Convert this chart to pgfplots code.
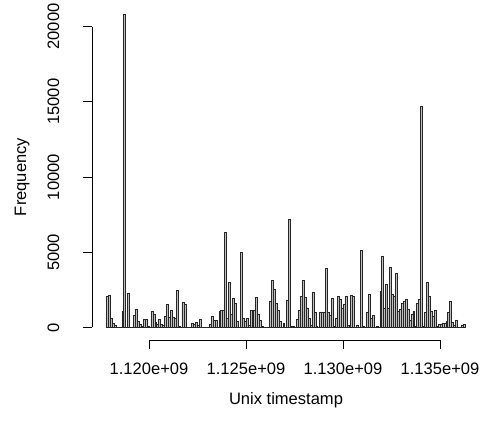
\documentclass[border=0pt]{standalone}
\usepackage{fontspec}
\setmainfont{Liberation Sans}
\usepackage{pgfplots}
\usepackage{pgfplotstable}
\pgfplotsset{compat=1.18}
% counts per bin of width 1e5 s, first bin starts at 1.1178e9 s
\pgfplotstableread[row sep=\\]{
f\\
2050\\ 2170\\ 640\\ 290\\ 130\\ 30\\ 0\\ 0\\ 1060\\ 20800\\
0\\ 2300\\ 0\\ 0\\ 820\\ 1200\\ 400\\ 220\\ 90\\ 520\\
520\\ 80\\ 0\\ 1080\\ 880\\ 330\\ 180\\ 520\\ 200\\ 150\\
750\\ 1550\\ 650\\ 1150\\ 700\\ 600\\ 2470\\ 60\\ 0\\ 1660\\
1570\\ 0\\ 0\\ 20\\ 290\\ 240\\ 350\\ 150\\ 520\\ 0\\
0\\ 0\\ 0\\ 230\\ 720\\ 480\\ 480\\ 20\\ 1080\\ 1130\\
1170\\ 6300\\ 600\\ 3000\\ 880\\ 1930\\ 1620\\ 380\\ 40\\ 4980\\
600\\ 420\\ 620\\ 160\\ 1150\\ 660\\ 1150\\ 2000\\ 850\\ 460\\
60\\ 30\\ 0\\ 20\\ 1710\\ 3130\\ 2560\\ 1600\\ 1170\\ 380\\
0\\ 280\\ 0\\ 1820\\ 7200\\ 60\\ 60\\ 20\\ 550\\ 1130\\
2080\\ 3130\\ 2030\\ 1300\\ 600\\ 130\\ 2370\\ 1020\\ 60\\ 0\\
1040\\ 1040\\ 1040\\ 3910\\ 1020\\ 780\\ 1940\\ 80\\ 580\\ 2080\\
1850\\ 1300\\ 1520\\ 2080\\ 150\\ 170\\ 2150\\ 2080\\ 0\\ 120\\
0\\ 5120\\ 60\\ 0\\ 1030\\ 2200\\ 600\\ 800\\ 0\\ 60\\
0\\ 2430\\ 4760\\ 1300\\ 2880\\ 1250\\ 4020\\ 2200\\ 2100\\ 3620\\
1100\\ 1230\\ 1640\\ 1760\\ 1860\\ 1230\\ 490\\ 900\\ 1100\\ 60\\
1610\\ 1900\\ 14720\\ 60\\ 1020\\ 3000\\ 2080\\ 1080\\ 770\\ 1150\\
60\\ 200\\ 240\\ 310\\ 300\\ 420\\ 1020\\ 1750\\ 330\\ 120\\
510\\ 0\\ 0\\ 140\\ 200\\ 0\\
}\hist
\begin{document}
\begin{tikzpicture}
\useasboundingbox (0,0) rectangle (484bp,425bp);
\begin{axis}[
  scale only axis, width=388bp, height=338bp,
  at={(92bp,85bp)}, anchor=south west,
  xmin=1117.062, xmax=1137.062, ymin=-832, ymax=21632,
  axis line style={draw=none},
  clip=false,
  scaled ticks=false,
  xtick={1120,1125,1130,1135},
  xticklabels={1.120e+09,1.125e+09,1.130e+09,1.135e+09},
  ytick={0,5000,10000,15000,20000},
  yticklabels={0,5000,10000,15000,20000},
  xtick pos=bottom, ytick pos=left,
  tick align=outside, major tick length=8.5bp,
  tick style={black, line width=0.75bp},
  tick label style={font=\fontsize{16.6}{19}\selectfont, inner sep=0pt},
  xticklabel style={anchor=north},
  yticklabel style={rotate=90, anchor=south},
  xticklabel shift=14bp, yticklabel shift=24bp,
]
\addplot[ybar interval, fill=lightgray, draw=black!85, line width=0.6bp]
  table[x expr={1117.8+0.1*\coordindex}, y=f] {\hist};
\draw[line width=0.75bp] (1117.062,0) -- (1117.062,20000);
\draw[line width=0.75bp] (1120,-832) -- (1135,-832);
\end{axis}
\node[rotate=90, anchor=base, font=\fontsize{16.6}{19}\selectfont] at (26bp,248bp) {Frequency};
\node[anchor=base, font=\fontsize{16.6}{19}\selectfont] at (286bp,21bp) {Unix timestamp};
\end{tikzpicture}
\end{document}
